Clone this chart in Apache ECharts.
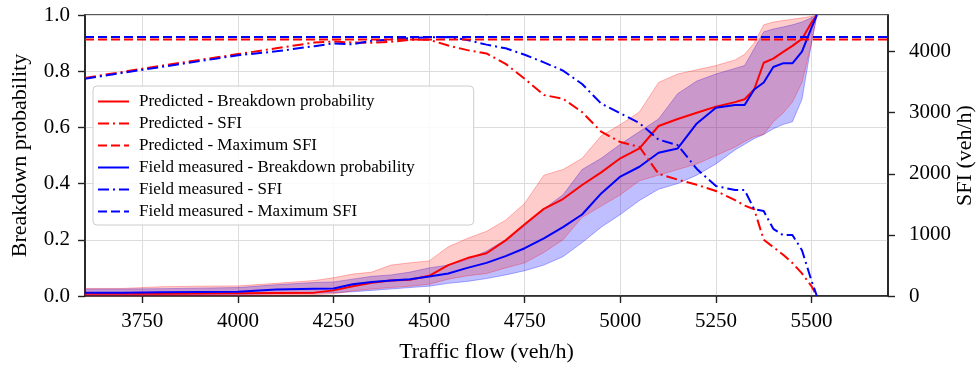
<!DOCTYPE html>
<html>
<head>
<meta charset="utf-8">
<script src="https://cdn.jsdelivr.net/npm/echarts@6/dist/echarts.min.js"></script>
<style>
  html, body { margin: 0; padding: 0; background: #ffffff; }
  #chart { width: 976px; height: 365px; }
</style>
</head>
<body>
<div id="chart"></div>
<script>
// Traffic flow grid (veh/h)
const flow = [3600, 3700, 3800, 3900, 4000, 4100, 4200,
  4250, 4300, 4350, 4400, 4450, 4500, 4550, 4600, 4650, 4700, 4750, 4800, 4850, 4900,
  4950, 5000, 5050, 5100, 5150, 5200, 5250, 5300,
  5325, 5350, 5375, 5400, 5425, 5450, 5475, 5500, 5514];

// Breakdown probability, predicted (median and band)
const predProb = [0.008, 0.008, 0.008, 0.009, 0.010, 0.011, 0.012,
  0.020, 0.035, 0.047, 0.055, 0.058, 0.072, 0.110, 0.135, 0.152, 0.198, 0.255, 0.310, 0.345, 0.395,
  0.440, 0.490, 0.525, 0.605, 0.630, 0.652, 0.674, 0.690,
  0.700, 0.735, 0.830, 0.845, 0.868, 0.890, 0.915, 0.973, 1.0];
const predUpper = [0.027, 0.027, 0.033, 0.035, 0.036, 0.045, 0.055,
  0.065, 0.078, 0.085, 0.110, 0.118, 0.125, 0.175, 0.205, 0.230, 0.270, 0.330, 0.430, 0.450, 0.490,
  0.570, 0.610, 0.655, 0.760, 0.790, 0.805, 0.820, 0.840,
  0.860, 0.900, 0.965, 0.975, 0.980, 0.985, 0.990, 0.995, 1.0];
const predLower = [0.000, 0.000, 0.001, 0.001, 0.002, 0.003, 0.005,
  0.008, 0.018, 0.025, 0.030, 0.035, 0.042, 0.060, 0.072, 0.080, 0.100, 0.118, 0.155, 0.200, 0.280,
  0.320, 0.360, 0.410, 0.430, 0.450, 0.470, 0.500, 0.530,
  0.550, 0.567, 0.575, 0.620, 0.650, 0.690, 0.760, 0.900, 1.0];

// Breakdown probability, field measured (median and band)
const fieldProb = [0.012, 0.012, 0.013, 0.014, 0.015, 0.023, 0.026,
  0.027, 0.042, 0.050, 0.055, 0.060, 0.069, 0.080, 0.100, 0.118, 0.142, 0.170, 0.205, 0.245, 0.290,
  0.365, 0.425, 0.460, 0.510, 0.525, 0.614, 0.670, 0.680,
  0.680, 0.735, 0.760, 0.815, 0.828, 0.828, 0.870, 0.955, 1.0];
const fieldUpper = [0.025, 0.025, 0.026, 0.028, 0.030, 0.040, 0.048,
  0.050, 0.060, 0.070, 0.075, 0.085, 0.100, 0.110, 0.130, 0.160, 0.200, 0.250, 0.310, 0.360, 0.450,
  0.490, 0.540, 0.585, 0.630, 0.720, 0.765, 0.790, 0.810,
  0.820, 0.880, 0.940, 0.950, 0.957, 0.965, 0.975, 0.990, 1.0];
const fieldLower = [0.003, 0.003, 0.004, 0.004, 0.005, 0.008, 0.010,
  0.012, 0.015, 0.020, 0.025, 0.030, 0.035, 0.045, 0.052, 0.062, 0.075, 0.090, 0.110, 0.140, 0.190,
  0.245, 0.290, 0.340, 0.380, 0.400, 0.430, 0.470, 0.520,
  0.540, 0.560, 0.575, 0.595, 0.610, 0.620, 0.700, 0.900, 1.0];

// Stable flow index (veh/h)
const predSfi = [3570, 3670, 3770, 3865, 3960, 4055, 4150,
  4165, 4150, 4145, 4160, 4195, 4195, 4100, 4025, 3970, 3800, 3555, 3290, 3230, 3010,
  2690, 2520, 2440, 2000, 1905, 1820, 1720, 1570,
  1480, 1420, 920, 800, 680, 540, 370, 160, 0];
const fieldSfi = [3557, 3655, 3750, 3845, 3940, 4005, 4090,
  4135, 4120, 4180, 4200, 4220, 4235, 4240, 4190, 4115, 4055, 3950, 3825, 3690, 3470,
  3150, 2990, 2830, 2560, 2470, 2080, 1800, 1735,
  1735, 1420, 1390, 1100, 998, 998, 750, 250, 0];
const predMaxSfi = 4200;
const fieldMaxSfi = 4240;

// Axis ranges and tick labels
const flowRange = [3600, 5700];
const flowTicks = [3750, 4000, 4250, 4500, 4750, 5000, 5250, 5500];
const sfiRange = [0, 4600];
const sfiTicks = [0, 1000, 2000, 3000, 4000];

const serif = "'Liberation Serif', 'Times New Roman', Times, serif";
const RED = '#ff0000';
const BLUE = '#0000ff';
const DASH = [9, 4];
const DASH_DOT = [11, 4, 2, 4];

const pairs = ys => flow.map((q, i) => [q, ys[i]]);
const flat = v => [[flowRange[0], v], [flowRange[1], v]];

// Shaded uncertainty band: one polygon running along the upper bound and back along the lower bound
function bandSeries(lo, hi, fill, edge) {
  return {
    type: 'custom', coordinateSystem: 'cartesian2d', xAxisIndex: 0, yAxisIndex: 0,
    silent: true, z: 1,
    data: [[flowRange[0], 0]],
    renderItem: (params, api) => {
      const upper = flow.map((q, i) => api.coord([q, hi[i]]));
      const lower = flow.map((q, i) => api.coord([q, lo[i]])).reverse();
      return {
        type: 'polygon',
        shape: { points: upper.concat(lower) },
        style: { fill, stroke: edge, lineWidth: 1 }
      };
    }
  };
}

function lineSeries(name, data, color, type, yAxisIndex) {
  return { type: 'line', name, data, yAxisIndex, symbol: 'none', z: 3,
    lineStyle: { color, width: 2, type }, itemStyle: { color } };
}

const names = [
  'Predicted - Breakdown probability',
  'Predicted - SFI',
  'Predicted - Maximum SFI',
  'Field measured - Breakdown probability',
  'Field measured - SFI',
  'Field measured - Maximum SFI'
];

const axisLine = { show: true, lineStyle: { color: '#222', width: 1.6 } };
const tickStyle = { color: '#222', width: 1.4 };
const labelText = { fontFamily: serif, fontSize: 21, color: '#000' };
const nameText = { fontFamily: serif, fontSize: 22, color: '#000' };

const chart = echarts.init(document.getElementById('chart'), null, { renderer: 'canvas' });
chart.setOption({
  animation: false,
  backgroundColor: '#ffffff',
  grid: { left: 85, right: 88, top: 15, bottom: 69, show: true, outerBoundsMode: 'none',
    borderColor: '#222', borderWidth: 1.6, backgroundColor: 'transparent' },
  legend: {
    data: names,
    orient: 'vertical', left: 93, top: 86,
    itemWidth: 31, itemHeight: 12, itemGap: 5,
    padding: [7, 59, 5, 4],
    backgroundColor: 'rgba(255,255,255,0.85)',
    borderColor: '#cccccc', borderWidth: 1, borderRadius: 4,
    itemStyle: { opacity: 0 },
    textStyle: { fontFamily: serif, fontSize: 17, color: '#000', lineHeight: 14, padding: [0, 0, 0, 5] }
  },
  xAxis: {
    type: 'value', min: flowRange[0], max: flowRange[1],
    name: 'Traffic flow (veh/h)', nameLocation: 'middle', nameGap: 45, nameTextStyle: nameText,
    nameMoveOverlap: false,
    axisLine,
    axisTick: { show: true, inside: false, length: 7, customValues: flowTicks, lineStyle: tickStyle },
    axisLabel: { customValues: flowTicks, margin: 15, formatter: v => String(v), ...labelText },
    splitLine: { show: true, lineStyle: { color: '#dcdcdc', width: 1 } }
  },
  yAxis: [
    {
      type: 'value', min: 0, max: 1, interval: 0.2, position: 'left',
      name: 'Breakdown probability', nameLocation: 'middle', nameGap: 54, nameRotate: 90,
      nameTextStyle: nameText, nameMoveOverlap: false,
      axisLine,
      axisTick: { show: true, inside: false, length: 7, lineStyle: tickStyle },
      axisLabel: { margin: 15, formatter: v => v.toFixed(1), ...labelText },
      splitLine: { show: true, lineStyle: { color: '#dcdcdc', width: 1 } }
    },
    {
      type: 'value', min: sfiRange[0], max: sfiRange[1], position: 'right',
      name: 'SFI (veh/h)', nameLocation: 'middle', nameGap: 66, nameRotate: 90,
      nameTextStyle: nameText, nameMoveOverlap: false,
      axisLine,
      axisTick: { show: true, inside: false, length: 7, customValues: sfiTicks, lineStyle: tickStyle },
      axisLabel: { margin: 21, customValues: sfiTicks, formatter: v => String(v), ...labelText },
      splitLine: { show: false }
    }
  ],
  series: [
    bandSeries(fieldLower, fieldUpper, 'rgba(0,0,255,0.25)', 'rgba(0,0,255,0.3)'),
    bandSeries(predLower, predUpper, 'rgba(255,0,0,0.2)', 'rgba(255,0,0,0.28)'),
    lineSeries(names[0], pairs(predProb), RED, 'solid', 0),
    lineSeries(names[3], pairs(fieldProb), BLUE, 'solid', 0),
    lineSeries(names[1], pairs(predSfi), RED, DASH_DOT, 1),
    lineSeries(names[4], pairs(fieldSfi), BLUE, DASH_DOT, 1),
    lineSeries(names[2], flat(predMaxSfi), RED, DASH, 1),
    lineSeries(names[5], flat(fieldMaxSfi), BLUE, DASH, 1)
  ]
});
</script>
</body>
</html>
